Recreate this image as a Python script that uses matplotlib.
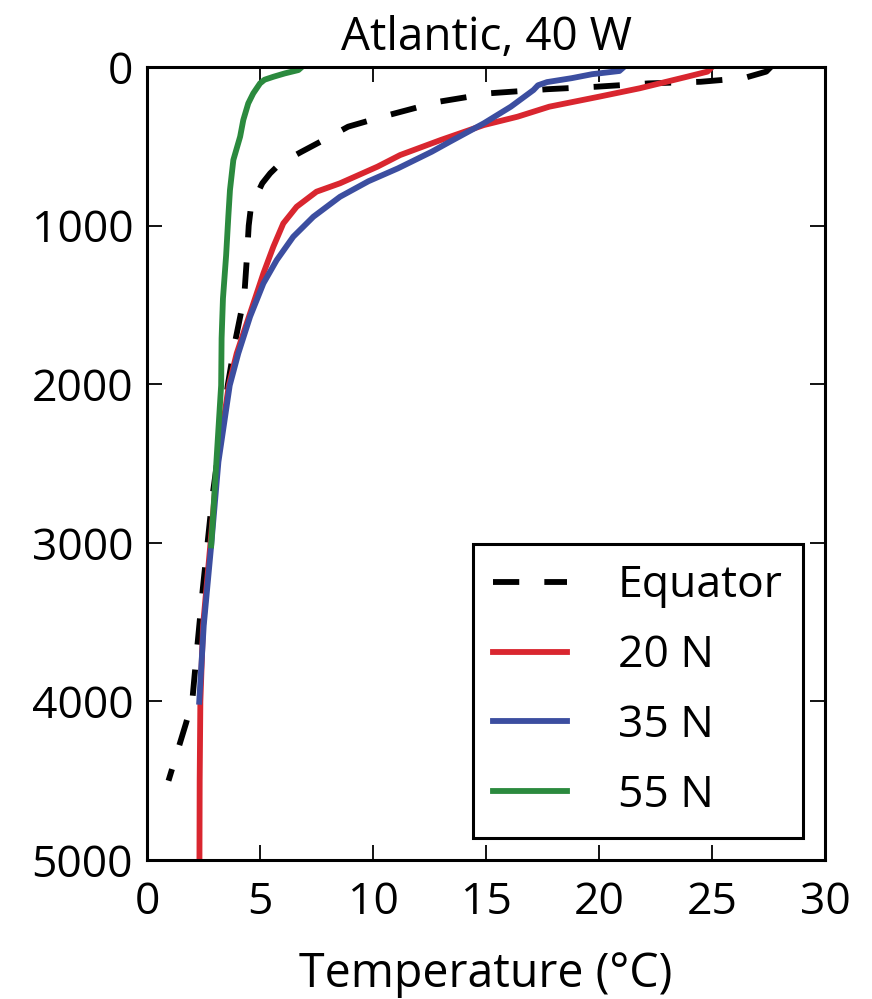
import matplotlib
matplotlib.use("Agg")
import matplotlib.pyplot as plt

plt.rcParams['font.family'] = ['Open Sans', 'DejaVu Sans']

title = "Atlantic, 40 W"
xlabel = "Temperature (°C)"
xticks = [0, 5, 10, 15, 20, 25, 30]
yticks = [0, 1000, 2000, 3000, 4000, 5000]

labels = ["Equator", "20 N", "35 N", "55 N"]

depth_eq = [0, 29, 70, 93, 103, 124, 140, 165, 219, 310, 376, 450, 534, 607,
            670, 733, 881, 1000, 1200, 1450, 1730, 2000, 2700, 3300, 3750,
            4000, 4140, 4500]
temp_eq = [27.6, 27.4, 26.4, 24.5, 22.2, 19.9, 17.7, 15.2, 12.9, 10.5, 8.9,
           7.95, 6.84, 5.9, 5.45, 5.1, 4.6, 4.5, 4.42, 4.3, 3.9, 3.58, 2.9,
           2.46, 2.16, 2.0, 1.72, 0.95]

depth_20 = [0, 29, 61, 134, 187, 250, 313, 366, 460, 555, 628, 733, 786, 881,
            986, 1133, 1301, 1553, 1805, 2007, 2489, 3016, 3521, 4002, 4500,
            5000]
temp_20 = [25.0, 24.8, 23.9, 21.8, 20.0, 17.8, 16.4, 14.9, 13.0, 11.2, 10.2,
           8.54, 7.5, 6.62, 6.03, 5.59, 5.15, 4.56, 3.97, 3.62, 3.12, 2.8,
           2.48, 2.36, 2.33, 2.32]

depth_35 = [0, 25, 45, 70, 95, 115, 145, 250, 355, 471, 534, 639, 720, 818,
            944, 1070, 1217, 1364, 1574, 1805, 2007, 2489, 3016, 3521, 4002]
temp_35 = [21.1, 20.9, 19.7, 18.8, 17.7, 17.3, 17.1, 16.1, 14.9, 13.4, 12.6,
           11.1, 9.8, 8.54, 7.36, 6.47, 5.74, 5.15, 4.56, 4.04, 3.66, 3.16,
           2.84, 2.51, 2.31]

depth_55 = [0, 19, 40, 61, 80, 103, 166, 229, 334, 439, 586, 776, 937, 1188,
            1460, 1711, 2007, 3016]
temp_55 = [6.85, 6.7, 6.1, 5.6, 5.2, 5.0, 4.7, 4.48, 4.26, 4.12, 3.82, 3.67,
           3.6, 3.5, 3.36, 3.3, 3.28, 2.84]

fig = plt.figure(figsize=(8.72, 9.99), dpi=100)
ax = fig.add_axes([0.1686, 0.1391, 0.7775, 0.7938])

lw = 4.2
ax.plot(temp_eq, depth_eq, color='black', lw=lw, dashes=(4.5, 4.3),
        label=labels[0], solid_joinstyle='round')
ax.plot(temp_20, depth_20, color='#d9262f', lw=lw, label=labels[1],
        solid_joinstyle='round')
ax.plot(temp_35, depth_35, color='#3c4ea0', lw=lw, label=labels[2],
        solid_joinstyle='round')
ax.plot(temp_55, depth_55, color='#2b8a3e', lw=lw, label=labels[3],
        solid_joinstyle='round')

ax.set_xlim(0, 30)
ax.set_ylim(5000, 0)
ax.set_xticks(xticks)
ax.set_yticks(yticks)
ax.tick_params(direction='in', length=11, width=1.3, top=True, right=True,
               labelsize=32, colors='black')
ax.tick_params(axis='x', pad=15)
ax.tick_params(axis='y', pad=10)
for s in ax.spines.values():
    s.set_linewidth(2.2)

ax.set_title(title, fontsize=33, pad=12)
ax.set_xlabel(xlabel, fontsize=33.5, labelpad=18)

leg = ax.legend(loc='lower right', fontsize=32, frameon=True, fancybox=False,
                edgecolor='black', framealpha=1, borderaxespad=0.5,
                handlelength=1.67, handletextpad=1.15, labelspacing=0.57,
                borderpad=0.45)
leg.get_frame().set_linewidth(2.2)

fig.savefig("out.png", dpi=100)
